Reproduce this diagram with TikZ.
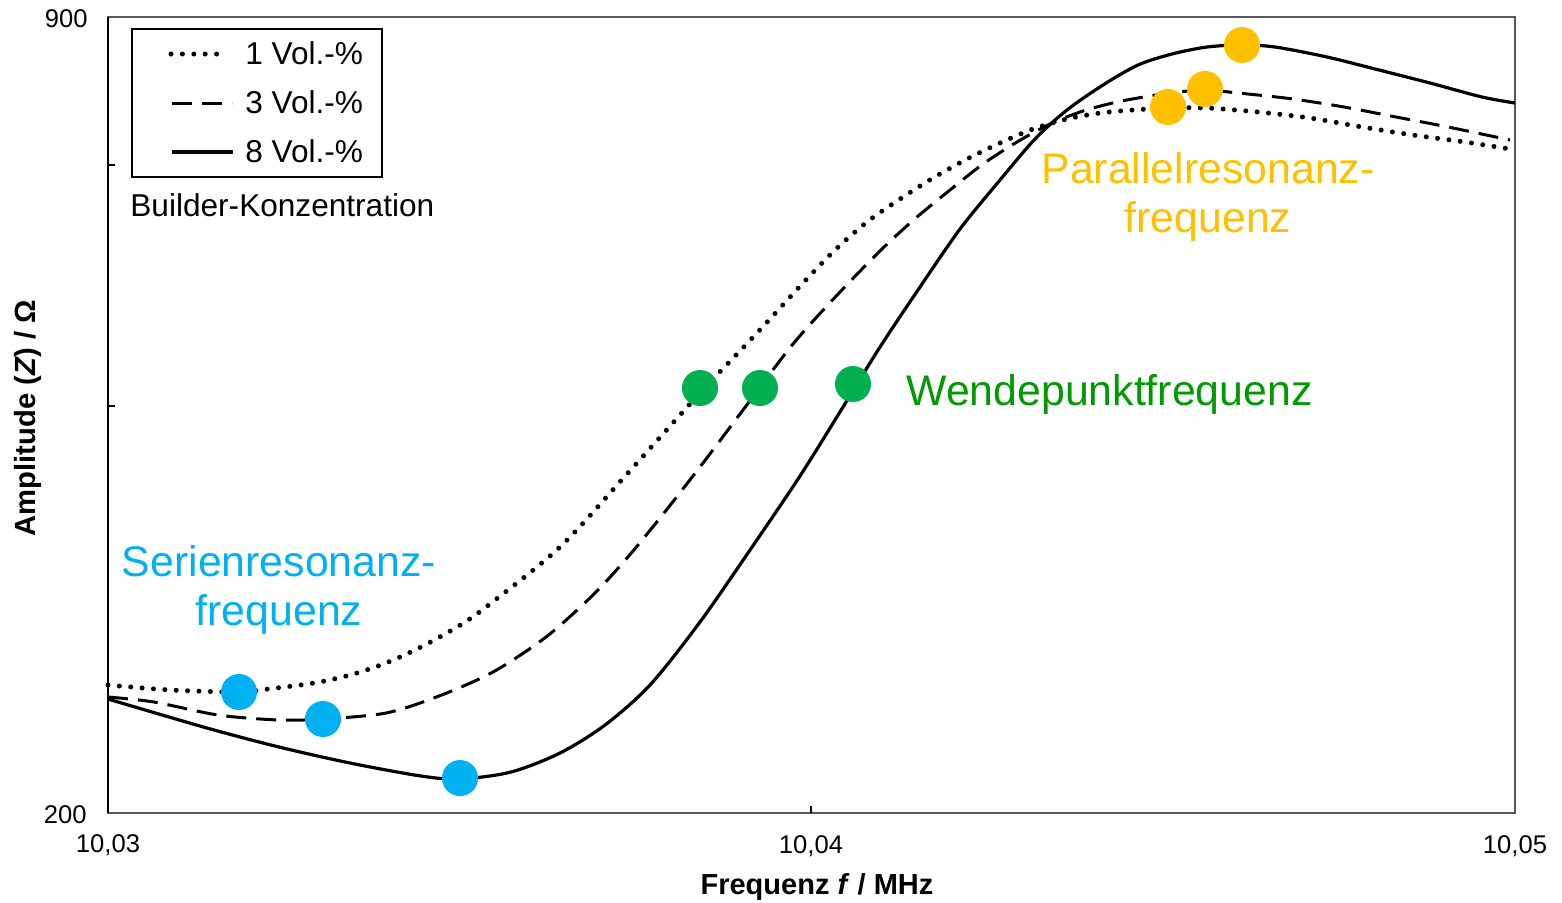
\documentclass[tikz,border=0pt]{standalone}
\usepackage{fontspec}
\setmainfont{Liberation Sans}
\definecolor{serblue}{HTML}{00B0F0}
\definecolor{wendgreen}{HTML}{00B050}
\definecolor{wendtext}{HTML}{009A00}
\definecolor{paryellow}{HTML}{FFC000}
\definecolor{framegray}{HTML}{595959}
\tikzset{
  vol1/.style={line width=2.5pt, line cap=round, dash pattern=on 0pt off 5.7pt},
  vol3/.style={line width=1.5pt, dash pattern=on 10pt off 5pt},
  vol8/.style={line width=1.6pt},
  marker/.style={circle, inner sep=0pt, minimum size=18pt},
  ticklabel/.style={inner sep=0pt, font=\fontsize{12.8}{15}\selectfont},
  bigtext/.style={inner sep=0pt, align=center, font=\fontsize{21.4}{24.5}\selectfont},
  legtext/.style={inner sep=0pt, anchor=base west, font=\fontsize{15.8}{18}\selectfont}
}
\begin{document}
\begin{tikzpicture}[x=0.5pt, y=-0.5pt]
\useasboundingbox (0,0) rectangle (1562,902);
%% frame and ticks
\draw[framegray, line width=0.9pt] (108,17) rectangle (1515,813);
\draw[black, line width=0.8pt] (108,17) -- (108,813);
\draw[black, line width=0.6pt] (108,165) -- (115,165);
\draw[black, line width=0.6pt] (108,406) -- (115,406);
\draw[black, line width=0.6pt] (811,813) -- (811,806);
\node[ticklabel, anchor=base east] (y900) at (88,27) {900};
\node[ticklabel, anchor=base east] (y200) at (87,823) {200};
\node[ticklabel, anchor=base] (x1003) at (108,852) {10,03};
\node[ticklabel, anchor=base] (x1004) at (811,853) {10,04};
\node[ticklabel, anchor=base] (x1005) at (1515,853) {10,05};
\node[inner sep=0pt, anchor=base, font=\fontsize{14.5}{17}\selectfont\bfseries] (xlabel) at (817,894) {Frequenz \textit{f} / MHz};
\node[inner sep=0pt, anchor=base, rotate=90, font=\fontsize{14.6}{17}\selectfont\bfseries] (ylabel) at (35,418) {Amplitude (\textit{Z}) / Ω};
%% curves
\draw[vol1] plot[smooth, tension=0.5] coordinates {(108,685) (171,690) (239,692) (268,689) (314,683) (350,675) (386,663) (421,647) (457,627) (486,607) (560,547) (627,474) (700,393) (757,333) (803,283) (835,250) (867,222) (900,199) (933,178) (967,159) (1000,143) (1033,129) (1067,119) (1100,113) (1133,110) (1168,108) (1207,108) (1258,112) (1310,118) (1362,127) (1413,135) (1465,142) (1510,149)};
\draw[vol3] plot[smooth, tension=0.5] coordinates {(108,697) (154,702) (218,715) (279,720) (323,719) (386,713) (439,696) (493,672) (546,637) (593,595) (627,558) (660,518) (703,463) (743,410) (793,344) (840,292) (883,248) (917,217) (950,190) (983,164) (1017,142) (1050,124) (1083,111) (1117,102) (1150,96) (1179,92) (1205,90) (1248,94) (1293,99) (1344,107) (1396,117) (1448,127) (1510,140)};
\draw[vol8] plot[smooth, tension=0.5] coordinates {(108,699) (207,728) (279,747) (350,763) (421,776) (460,779) (511,772) (560,753) (605,725) (650,685) (700,622) (750,550) (800,476) (843,407) (880,347) (920,287) (960,229) (1000,180) (1035,139) (1067,110) (1103,85) (1138,65) (1172,54) (1207,47) (1242,45) (1275,47) (1327,57) (1379,70) (1430,83) (1482,97) (1515,103)};
%% markers
\node[marker, fill=serblue] (ser1) at (239,692) {};
\node[marker, fill=serblue] (ser3) at (323,719) {};
\node[marker, fill=serblue] (ser8) at (460,778) {};
\node[marker, fill=wendgreen] (wen1) at (700,388) {};
\node[marker, fill=wendgreen] (wen3) at (760,388) {};
\node[marker, fill=wendgreen] (wen8) at (853,384) {};
\node[marker, fill=paryellow] (par1) at (1168,107) {};
\node[marker, fill=paryellow] (par3) at (1205,89) {};
\node[marker, fill=paryellow] (par8) at (1242,45) {};
%% labels
\node[bigtext, text=serblue, anchor=north] (serlabel) at (279,545) {Serienresonanz-\\frequenz};
\node[bigtext, text=wendtext, anchor=base west] (wenlabel) at (906,405) {Wendepunktfrequenz};
\node[bigtext, text=paryellow, anchor=north] (parlabel) at (1208,152) {Parallelresonanz-\\frequenz};
%% legend
\draw[black, line width=0.6pt] (132,29) rectangle (382,177);
\draw[vol1] (171,54) -- (222,54);
\draw[vol3] (172,103) -- (232,103);
\draw[vol8] (172,152) -- (233,152);
\node[legtext] (leg1) at (245,64) {1 Vol.-\%};
\node[legtext] (leg3) at (245,113) {3 Vol.-\%};
\node[legtext] (leg8) at (245,162) {8 Vol.-\%};
\node[legtext] (legtitle) at (130,216) {Builder-Konzentration};
\end{tikzpicture}
\end{document}
